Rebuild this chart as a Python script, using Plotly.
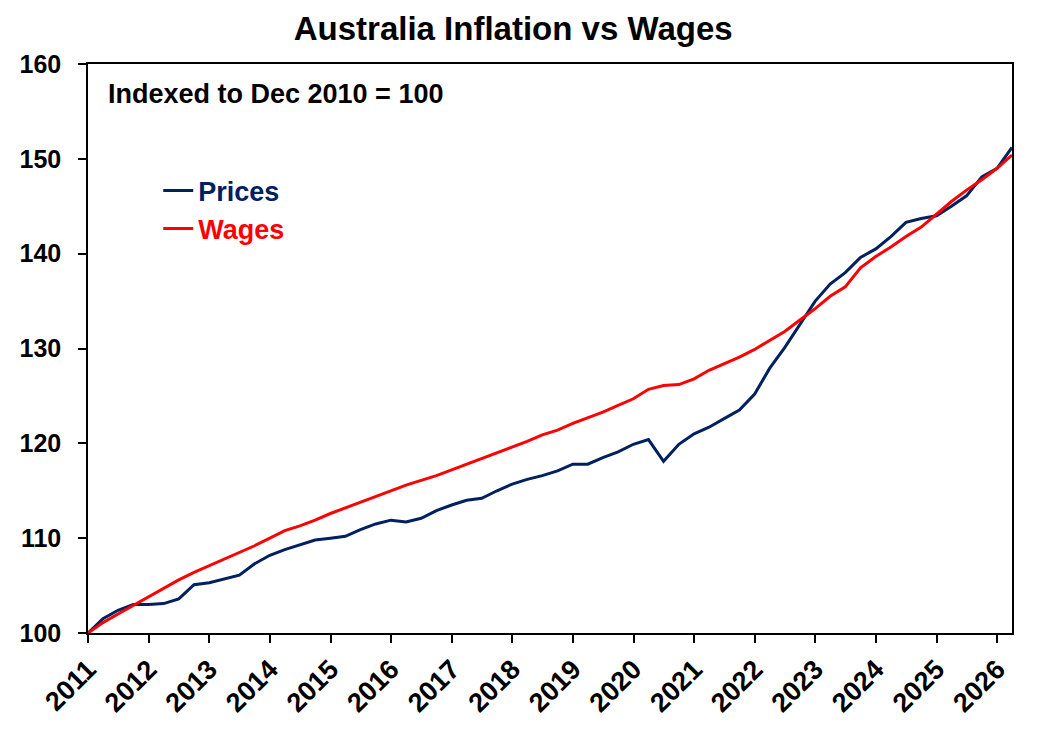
import pandas as pd
import plotly.graph_objects as go

# Quarterly observations, Dec 2010 .. Mar 2026 (indexed Dec 2010 = 100)
quarters = pd.date_range("2010-12-31", periods=62, freq="QE")

prices = [100.0, 101.5, 102.4, 103.0, 103.0, 103.1, 103.6, 105.1, 105.3, 105.7,
          106.1, 107.3, 108.2, 108.8, 109.3, 109.8, 110.0, 110.2, 110.9, 111.5,
          111.9, 111.7, 112.1, 112.9, 113.5, 114.0, 114.2, 115.0, 115.7, 116.2,
          116.6, 117.1, 117.8, 117.8, 118.5, 119.1, 119.9, 120.4, 118.1, 119.9,
          121.0, 121.7, 122.6, 123.5, 125.2, 127.9, 130.1, 132.5, 135.0, 136.8,
          138.0, 139.6, 140.5, 141.8, 143.3, 143.7, 144.0, 145.0, 146.1, 148.1,
          149.0, 151.2]

wages = [100.0, 101.1, 102.0, 102.9, 103.8, 104.7, 105.6, 106.4, 107.1, 107.8,
         108.5, 109.2, 110.0, 110.8, 111.3, 111.9, 112.6, 113.2, 113.8, 114.4,
         115.0, 115.6, 116.1, 116.6, 117.2, 117.8, 118.4, 119.0, 119.6, 120.2,
         120.9, 121.4, 122.1, 122.7, 123.3, 124.0, 124.7, 125.7, 126.1, 126.2,
         126.8, 127.7, 128.4, 129.1, 129.9, 130.8, 131.8, 133.0, 134.2, 135.5,
         136.5, 138.5, 139.7, 140.7, 141.8, 142.8, 144.2, 145.5, 146.7, 147.8,
         149.0, 150.4]

series_names = ["Prices", "Wages"]
colors = ["#002060", "#FF0000"]

FONT = "Liberation Sans, Arial, sans-serif"

fig = go.Figure()
for name, vals, col in zip(series_names, [prices, wages], colors):
    fig.add_trace(go.Scatter(
        x=quarters, y=vals, mode="lines",
        name=f"<span style='color:{col}'>{name}</span>",
        legendgroup=name,
        line=dict(color=col, width=3),
    ))

fig.update_layout(
    width=1042, height=730,
    paper_bgcolor="white", plot_bgcolor="white",
    margin=dict(l=88, r=30, t=64, b=97),
    font=dict(family=FONT, color="black"),
    title=dict(text="<b>Australia Inflation vs Wages</b>",
               x=0.4925, xanchor="center", y=1 - 28 / 730, yanchor="middle",
               yref="container", font=dict(size=33, family=FONT, color="black")),
    showlegend=True,
    legend=dict(x=0.076, xanchor="left", y=0.82, yanchor="top",
                bgcolor="rgba(0,0,0,0)", tracegroupgap=0,
                font=dict(size=27, family=FONT, weight="bold")),
    annotations=[dict(text="<b>Indexed to Dec 2010 = 100</b>",
                      xref="paper", yref="paper", x=0.019, y=0.947,
                      xanchor="left", yanchor="middle", showarrow=False,
                      font=dict(size=27, family=FONT, color="black"))],
)

fig.update_xaxes(
    type="date", range=["2010-12-31", "2026-03-31"],
    tick0="2011-01-01", dtick="M12", tickformat="%Y",
    tickangle=-45, ticks="outside", ticklen=8, tickwidth=1.5, tickcolor="black",
    showline=True, linecolor="black", linewidth=1.5, mirror=True,
    showgrid=False, zeroline=False,
    tickfont=dict(size=27, family=FONT, color="black", weight="bold"),
)
fig.update_yaxes(
    range=[100, 160], dtick=10, tick0=100,
    ticks="outside", ticklen=8, tickwidth=1.5, tickcolor="black",
    showline=True, linecolor="black", linewidth=1.5, mirror=True,
    showgrid=False, zeroline=False, ticklabelstandoff=12,
    tickfont=dict(size=25, family=FONT, color="black", weight="bold"),
)

fig.write_html("out.html")
